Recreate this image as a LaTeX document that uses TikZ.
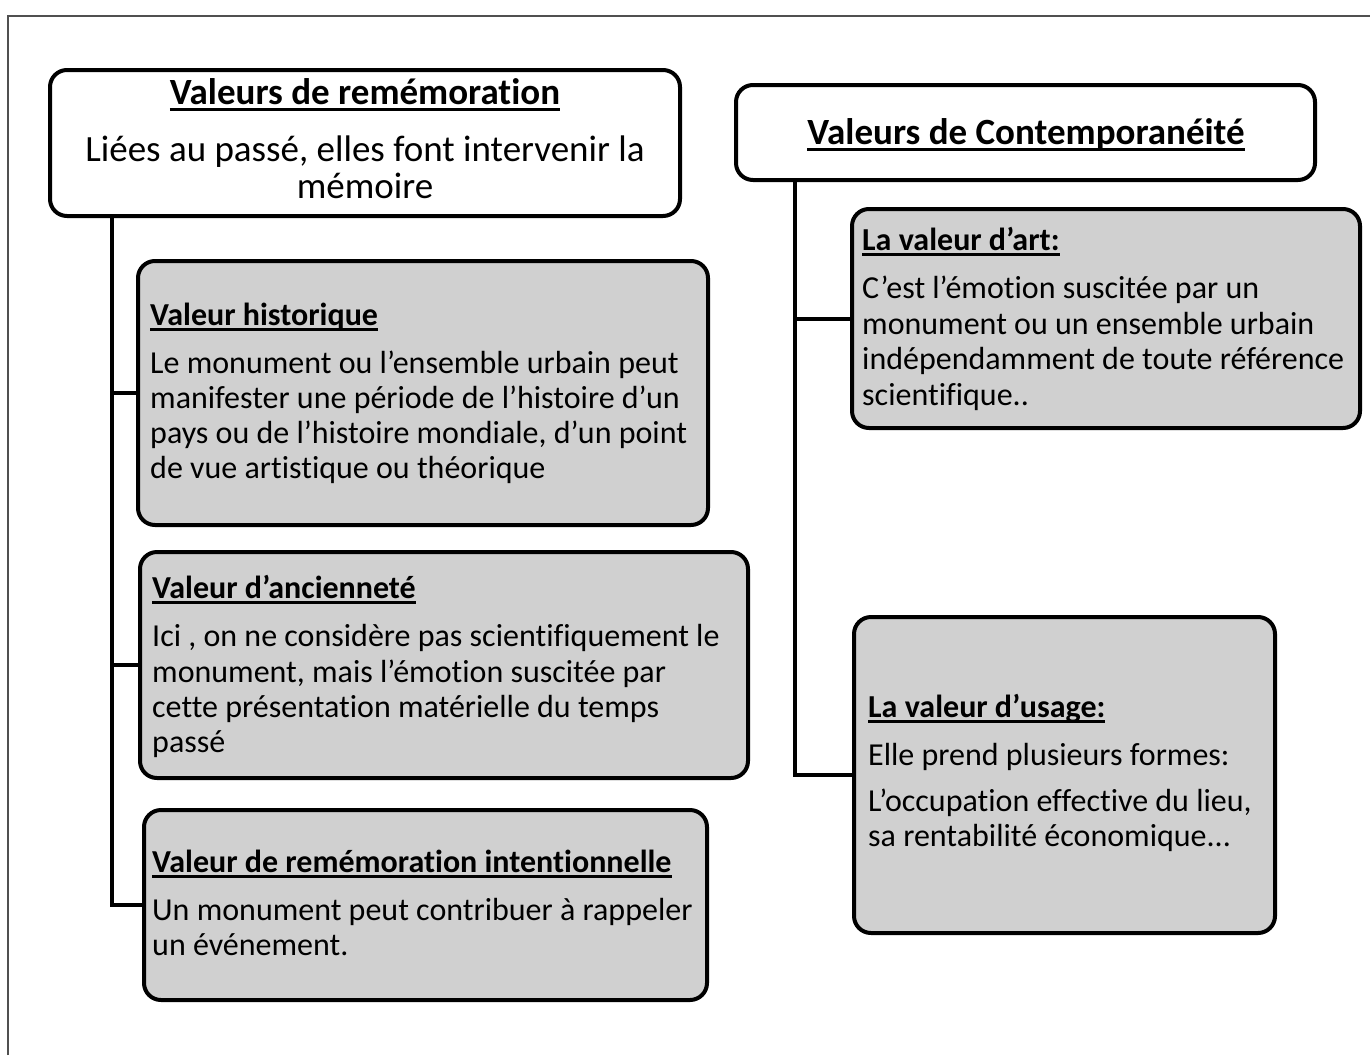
\documentclass[tikz,border=0pt]{standalone}
\usepackage{fontspec}
\setmainfont{Carlito}[Ligatures=NoCommon]
\definecolor{boxgray}{RGB}{208,208,208}
\definecolor{framegray}{RGB}{80,80,80}
\newcommand\myul[2][6pt]{\setbox0\hbox{#2}\rlap{\rule[-#1]{\wd0}{2.6pt}}\box0}
\begin{document}
\begin{tikzpicture}[x=1pt,y=-1pt,
  box/.style={draw=black, line width=4pt, rounded corners=17pt, fill=white, inner sep=0pt},
  gbox/.style={box, fill=boxgray},
  conn/.style={draw=black, line width=4pt},
  body/.style={inner sep=0pt, anchor=base west, font=\fontsize{32}{35}\selectfont},
  ttl/.style={inner sep=0pt, anchor=base west, font=\fontsize{32}{35}\selectfont\bfseries},
  big/.style={inner sep=0pt, anchor=base, font=\fontsize{37}{40}\selectfont},
  bigb/.style={big, font=\fontsize{37}{40}\selectfont\bfseries}]
\useasboundingbox (0,0) rectangle (1370,1055);
\draw[framegray, line width=1.5pt] (8,1055) -- (8,16) -- (1370,16);

% boxes
\node[box,  minimum width=630pt, minimum height=146pt] (A) at (365,143) {};
\node[box,  minimum width=579pt, minimum height=95pt]  (B) at (1025.5,132.5) {};
\node[gbox, minimum width=570pt, minimum height=264pt] (C) at (423,393) {};
\node[gbox, minimum width=608pt, minimum height=226pt] (D) at (444,665) {};
\node[gbox, minimum width=563pt, minimum height=190pt] (E) at (425.5,905) {};
\node[gbox, minimum width=508pt, minimum height=219pt] (F) at (1106,318.5) {};
\node[gbox, minimum width=421pt, minimum height=316pt] (G) at (1064.5,775) {};

% connectors
\coordinate (lx) at (112,0);
\coordinate (rx) at (795,0);
\coordinate (ta) at (A.south -| lx);
\coordinate (tb) at (B.south -| rx);
\draw[conn] (ta) |- (E.west);
\draw[conn] (ta |- C.west) -- (C.west);
\draw[conn] (ta |- D.west) -- (D.west);
\draw[conn] (tb) |- (G.west);
\draw[conn] (tb |- F.west) -- (F.west);

% box A
\node[bigb] (a0) at (365,104) {\myul[7pt]{Valeurs de remémoration}};
\node[big]  (a1) at (365,161) {Liées au passé, elles font intervenir la};
\node[big]  (a2) at (365,198) {mémoire};
% box B
\node[bigb] (b0) at (1026,144) {\myul[7pt]{Valeurs de Contemporanéité}};
% box C
\node[ttl]  (c0) at (150,325) {\myul{Valeur historique}};
\node[body] (c1) at (150,373) {Le monument ou l’ensemble urbain peut};
\node[body] (c2) at (150,408) {manifester une période de l’histoire d’un};
\node[body] (c3) at (150,443) {pays ou de l’histoire mondiale, d’un point};
\node[body] (c4) at (150,478) {de vue artistique ou théorique};
% box D
\node[ttl]  (d0) at (152,598) {\myul{Valeur d’ancienneté}};
\node[body] (d1) at (152,646) {Ici , on ne considère pas scientifiquement le};
\node[body] (d2) at (152,682) {monument, mais l’émotion suscitée par};
\node[body] (d3) at (152,717) {cette présentation matérielle du temps};
\node[body] (d4) at (152,752) {passé};
% box E
\node[ttl]  (e0) at (152,872) {\myul{Valeur de remémoration intentionnelle}};
\node[body] (e1) at (152,920) {Un monument peut contribuer à rappeler};
\node[body] (e2) at (152,955) {un événement.};
% box F
\node[ttl]  (f0) at (862,250) {\myul{La valeur d’art:}};
\node[body] (f1) at (862,298) {C’est l’émotion suscitée par un};
\node[body] (f2) at (862,334) {monument ou un ensemble urbain};
\node[body] (f3) at (862,369) {indépendamment de toute référence};
\node[body] (f4) at (862,405) {scientifique..};
% box G
\node[ttl]  (g0) at (868,717) {\myul{La valeur d’usage:}};
\node[body] (g1) at (868,765) {Elle prend plusieurs formes:};
\node[body] (g2) at (868,811) {L’occupation effective du lieu,};
\node[body] (g3) at (868,846) {sa rentabilité économique...};
\end{tikzpicture}
\end{document}
